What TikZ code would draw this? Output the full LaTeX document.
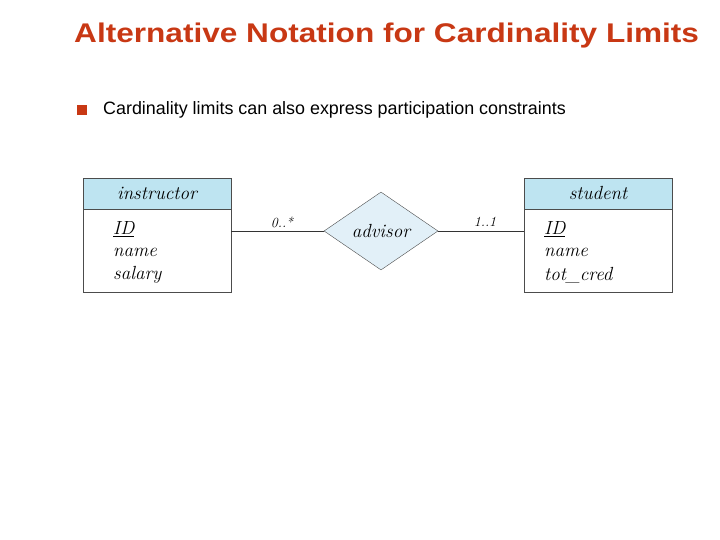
\documentclass[tikz,border=0pt]{standalone}
\usepackage{fontspec}
\setmainfont{Latin Modern Roman}
\newfontfamily\arial{Liberation Sans}
\newfontfamily\arialw[FakeStretch=1.17]{Liberation Sans}
\usetikzlibrary{shapes.geometric}
\definecolor{titred}{RGB}{200,56,20}
\definecolor{hdr}{RGB}{190,228,241}
\definecolor{dia}{RGB}{226,240,248}
\tikzset{
 hdrbox/.style={draw=black!70,fill=hdr,minimum width=148pt,minimum height=31pt,inner sep=0pt,font=\itshape\fontsize{19}{19}\selectfont},
 bodybox/.style={draw=black!70,fill=white,minimum width=148pt,minimum height=83pt,inner sep=0pt},
 attr/.style={anchor=west,inner sep=0pt,font=\itshape\fontsize{19}{20}\selectfont},
 card/.style={inner sep=0pt,font=\itshape\fontsize{14}{14}\selectfont},
 rel/.style={diamond,draw=black!70,fill=dia,minimum width=114pt,minimum height=78pt,inner sep=0pt,font=\itshape\fontsize{19}{19}\selectfont},
 link/.style={draw=black!80,line width=0.6pt}
}
\begin{document}
\begin{tikzpicture}[x=1pt,y=-1pt]
\useasboundingbox (0,0) rectangle (720,540);
\node[anchor=west,inner sep=0pt,text=titred,font=\arialw\bfseries\fontsize{27}{27}\selectfont] (title) at (74,36) {Alternative Notation for Cardinality Limits};
\node[fill=titred,minimum size=10pt,inner sep=0pt] (bul) at (82,110) {};
\node[anchor=west,inner sep=0pt,font=\arial\fontsize{17.9}{17.9}\selectfont] (btxt) at (103,110) {Cardinality limits can also express participation constraints};
% instructor
\node[bodybox] (ib) at (157,250.5) {};
\node[hdrbox] (ih) at (157,193.5) {instructor};
\node[attr] (i1) at (113,229) {\underline{ID}};
\node[attr] (i2) at (113,252) {name};
\node[attr] (i3) at (113,275) {salary};
% student
\node[bodybox] (sb) at (598,250.5) {};
\node[hdrbox] (sh) at (598,193.5) {student};
\node[attr] (s1) at (544,229) {\underline{ID}};
\node[attr] (s2) at (544,252) {name};
\node[attr] (s3) at (544,275) {tot\_cred};
% relationship
\node[rel] (adv) at (381,231) {advisor};
\coordinate (il) at (231,231);
\coordinate (sl) at (524,231);
\draw[link] (il) -- (adv.west);
\draw[link] (adv.east) -- (sl);
\node[card] (c1) at (282,222) {0..*};
\node[card] (c2) at (485,222) {1..1};
\end{tikzpicture}
\end{document}
